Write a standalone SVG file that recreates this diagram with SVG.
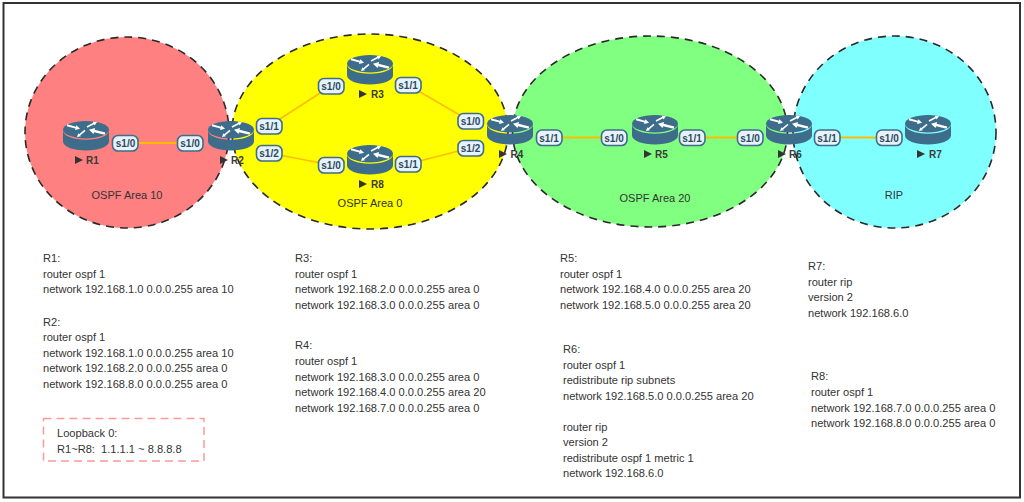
<svg xmlns="http://www.w3.org/2000/svg" width="1024" height="502" viewBox="0 0 1024 502">
<style>
.area{stroke:#2a2a2a;stroke-width:1.6;stroke-dasharray:8 6}
.link{stroke:#ffbb00;stroke-width:2;fill:none}
.link2{stroke:#ffbb00;stroke-width:1.5;fill:none}
.pill{fill:#e8f2fb;stroke:#3d6d8a;stroke-width:1.6}
.pt{font:bold 10px "Liberation Sans",Arial,sans-serif;fill:#2b4a60;text-anchor:middle}
.rl{font:bold 10px "Liberation Sans",Arial,sans-serif;fill:#3a3a3a}
.al{font:11px "Liberation Sans",Arial,sans-serif;fill:#333;text-anchor:middle}
.cfg{font:11.1px "Liberation Sans",Arial,sans-serif;fill:#333;white-space:pre}
.play{fill:#333}
</style>
<defs>
<path id="arr" d="M0 -1.100H10V-2.800L15 0 10 2.800V1.100H0Z" fill="#fff"/>
<g id="router">
<path d="M0 9.500V20.500C0 25.500 10.300 29.500 23 29.500S46 25.500 46 20.500V9.500C46 14.500 36 18.800 23 18.800S0 14.500 0 9.500Z" fill="#3d6d8a"/>
<ellipse cx="23" cy="8.700" rx="23" ry="8.700" fill="#3d6d8a"/>
<use href="#arr" transform="translate(4 4.300) rotate(15) scale(.9)"/>
<use href="#arr" transform="translate(42 12.700) rotate(194) scale(1.100)"/>
<use href="#arr" transform="translate(24 6) rotate(-27) scale(.75)"/>
<use href="#arr" transform="translate(22 9.300) rotate(140) scale(.7)"/>
</g>
<path id="play" class="play" d="M0 0l8 4-8 4z"/>
</defs>
<rect width="1024" height="502" fill="#fff"/>
<rect x="3.500" y="3" width="1016.500" height="494.500" fill="#fff" stroke="#333" stroke-width="2"/>
<g id="areas">
<ellipse class="area" cx="127" cy="132.500" rx="102" ry="95.500" fill="#ff8080"/>
<ellipse class="area" cx="370" cy="131.500" rx="138" ry="97.500" fill="#ffff00"/>
<ellipse class="area" cx="650" cy="131.500" rx="137.500" ry="95.500" fill="#80ff80"/>
<ellipse class="area" cx="894.500" cy="132" rx="101.500" ry="96" fill="#80ffff"/>
</g>
<g id="connectors">
<line class="link" x1="125" y1="143" x2="190" y2="143"/>
<line class="link2" x1="269" y1="126" x2="331" y2="86"/>
<line class="link2" x1="269" y1="153" x2="331" y2="165"/>
<line class="link2" x1="408" y1="85" x2="470" y2="121"/>
<line class="link2" x1="408" y1="164" x2="470" y2="148"/>
<line class="link" x1="549" y1="137.500" x2="614" y2="137.500"/>
<line class="link" x1="692" y1="137.500" x2="750" y2="137.500"/>
<line class="link" x1="827" y1="137.500" x2="889" y2="137.500"/>
</g>
<g id="R1"><use href="#router" x="63" y="121"/><use href="#play" x="75" y="156"/><text class="rl" x="86" y="164">R1</text>
<rect class="pill" x="112.500" y="135.500" width="25.500" height="15.500" rx="5.500"/><text class="pt" x="125.500" y="147">s1/0</text></g>
<g id="R2"><use href="#router" x="208" y="121"/><use href="#play" x="220" y="156"/><text class="rl" x="231" y="164">R2</text>
<rect class="pill" x="177.500" y="135.500" width="25.500" height="15.500" rx="5.500"/><text class="pt" x="190" y="147">s1/0</text>
<rect class="pill" x="256.500" y="118.500" width="25.500" height="15.500" rx="5.500"/><text class="pt" x="269" y="130">s1/1</text>
<rect class="pill" x="256.500" y="145.500" width="25.500" height="15.500" rx="5.500"/><text class="pt" x="269" y="157">s1/2</text></g>
<g id="R3"><use href="#router" x="347" y="55"/><use href="#play" x="359" y="90"/><text class="rl" x="371" y="98">R3</text>
<rect class="pill" x="318.500" y="78.500" width="25.500" height="15.500" rx="5.500"/><text class="pt" x="331" y="90">s1/0</text>
<rect class="pill" x="395.500" y="77.500" width="25.500" height="15.500" rx="5.500"/><text class="pt" x="408" y="89">s1/1</text></g>
<g id="R8"><use href="#router" x="347" y="145"/><use href="#play" x="359" y="180"/><text class="rl" x="371" y="188">R8</text>
<rect class="pill" x="318.500" y="157.500" width="25.500" height="15.500" rx="5.500"/><text class="pt" x="331" y="169">s1/0</text>
<rect class="pill" x="395.500" y="156.500" width="25.500" height="15.500" rx="5.500"/><text class="pt" x="408" y="168">s1/1</text></g>
<g id="R4"><use href="#router" x="487" y="115"/><use href="#play" x="499" y="150"/><text class="rl" x="510.500" y="158">R4</text>
<rect class="pill" x="458" y="113.500" width="25.500" height="15.500" rx="5.500"/><text class="pt" x="470.500" y="125">s1/0</text>
<rect class="pill" x="458" y="140.500" width="25.500" height="15.500" rx="5.500"/><text class="pt" x="470.500" y="152">s1/2</text>
<rect class="pill" x="536.500" y="130" width="25.500" height="15.500" rx="5.500"/><text class="pt" x="549" y="141.500">s1/1</text></g>
<g id="R5"><use href="#router" x="632" y="115"/><use href="#play" x="644" y="150"/><text class="rl" x="655" y="158">R5</text>
<rect class="pill" x="601.500" y="130" width="25.500" height="15.500" rx="5.500"/><text class="pt" x="614" y="141.500">s1/0</text>
<rect class="pill" x="679.500" y="130" width="25.500" height="15.500" rx="5.500"/><text class="pt" x="692" y="141.500">s1/1</text></g>
<g id="R6"><use href="#router" x="766" y="115"/><use href="#play" x="778" y="150"/><text class="rl" x="789" y="158">R6</text>
<rect class="pill" x="737.500" y="130" width="25.500" height="15.500" rx="5.500"/><text class="pt" x="750" y="141.500">s1/0</text>
<rect class="pill" x="814.500" y="130" width="25.500" height="15.500" rx="5.500"/><text class="pt" x="827" y="141.500">s1/1</text></g>
<g id="R7"><use href="#router" x="905" y="115"/><use href="#play" x="917" y="150"/><text class="rl" x="929" y="158">R7</text>
<rect class="pill" x="876.500" y="130" width="25.500" height="15.500" rx="5.500"/><text class="pt" x="889" y="141.500">s1/0</text></g>
<g id="area-labels">
<text class="al" x="127" y="199">OSPF Area 10</text>
<text class="al" x="370" y="207">OSPF Area 0</text>
<text class="al" x="655" y="202">OSPF Area 20</text>
<text class="al" x="894" y="199">RIP</text>
</g>
<g id="configs">
<text class="cfg" x="43" y="262">R1:</text>
<text class="cfg" x="43" y="278">router ospf 1</text>
<text class="cfg" x="43" y="293">network 192.168.1.0 0.0.0.255 area 10</text>
<text class="cfg" x="43" y="325.500">R2:</text>
<text class="cfg" x="43" y="341">router ospf 1</text>
<text class="cfg" x="43" y="356.500">network 192.168.1.0 0.0.0.255 area 10</text>
<text class="cfg" x="43" y="372">network 192.168.2.0 0.0.0.255 area 0</text>
<text class="cfg" x="43" y="387.500">network 192.168.8.0 0.0.0.255 area 0</text>
<text class="cfg" x="295" y="262">R3:</text>
<text class="cfg" x="295" y="278">router ospf 1</text>
<text class="cfg" x="295" y="293">network 192.168.2.0 0.0.0.255 area 0</text>
<text class="cfg" x="295" y="309">network 192.168.3.0 0.0.0.255 area 0</text>
<text class="cfg" x="295" y="349">R4:</text>
<text class="cfg" x="295" y="365">router ospf 1</text>
<text class="cfg" x="295" y="380.500">network 192.168.3.0 0.0.0.255 area 0</text>
<text class="cfg" x="295" y="396">network 192.168.4.0 0.0.0.255 area 20</text>
<text class="cfg" x="295" y="412">network 192.168.7.0 0.0.0.255 area 0</text>
<text class="cfg" x="560" y="262">R5:</text>
<text class="cfg" x="560" y="278">router ospf 1</text>
<text class="cfg" x="560" y="293">network 192.168.4.0 0.0.0.255 area 20</text>
<text class="cfg" x="560" y="309">network 192.168.5.0 0.0.0.255 area 20</text>
<text class="cfg" x="563" y="353">R6:</text>
<text class="cfg" x="563" y="368.500">router ospf 1</text>
<text class="cfg" x="563" y="384">redistribute rip subnets</text>
<text class="cfg" x="563" y="399.500">network 192.168.5.0 0.0.0.255 area 20</text>
<text class="cfg" x="563" y="430.500">router rip</text>
<text class="cfg" x="563" y="446">version 2</text>
<text class="cfg" x="563" y="461.500">redistribute ospf 1 metric 1</text>
<text class="cfg" x="563" y="477">network 192.168.6.0</text>
<text class="cfg" x="808" y="270">R7:</text>
<text class="cfg" x="808" y="286">router rip</text>
<text class="cfg" x="808" y="301">version 2</text>
<text class="cfg" x="808" y="317">network 192.168.6.0</text>
<text class="cfg" x="811" y="380">R8:</text>
<text class="cfg" x="811" y="396">router ospf 1</text>
<text class="cfg" x="811" y="412">network 192.168.7.0 0.0.0.255 area 0</text>
<text class="cfg" x="811" y="427">network 192.168.8.0 0.0.0.255 area 0</text>
</g>
<g id="loopback">
<rect x="43.500" y="418.500" width="160.500" height="42.500" fill="none" stroke="#ff9999" stroke-width="1.500" stroke-dasharray="8 5"/>
<text class="cfg" x="57" y="437">Loopback 0:</text>
<text class="cfg" x="57" y="452.500">R1~R8:  1.1.1.1 ~ 8.8.8.8</text>
</g>
</svg>
